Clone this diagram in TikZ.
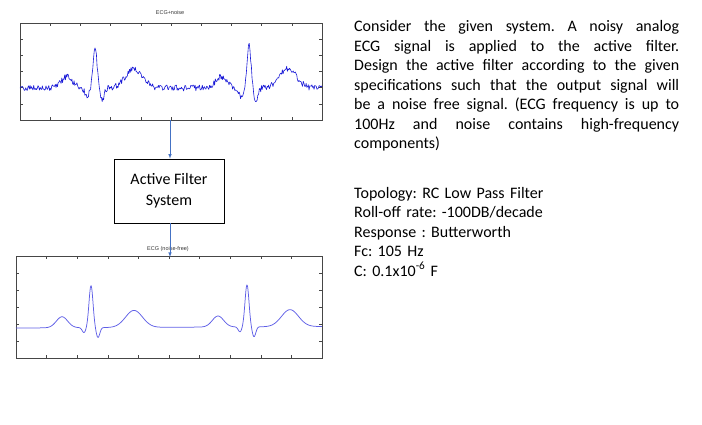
\documentclass[tikz,border=0pt]{standalone}
\usepackage{fontspec}
\setmainfont{Carlito}
\newfontfamily\plotfont{Liberation Sans}
\usepackage{tikz}
\usetikzlibrary{arrows,calc,positioning}
\definecolor{noisyblue}{RGB}{25,25,215}
\definecolor{cleanblue}{RGB}{95,95,230}
\definecolor{arrowblue}{RGB}{68,114,196}
\definecolor{framegray}{RGB}{70,70,70}
\frenchspacing
\tikzset{
  declare function={
    gs(\t)=exp(-(min(abs(\t),5))*(min(abs(\t),5)));
    cleanbeat(\x,\r)=11*gs((\x-\r+29)/8)-5*gs((\x-\r+7)/2.5)+42*gs((\x-\r)/2.8)-10*gs((\x-\r-7)/2.5)+17*gs((\x-\r-43)/12);
    noisybeat(\x,\r)=11*gs((\x-\r+28)/8)-9*gs((\x-\r+8)/3)+42*gs((\x-\r)/2.8)-12*gs((\x-\r-7)/3)+19*gs((\x-\r-39)/12);
  },
  plotframe/.style={draw=framegray,line width=0.5pt},
  plottick/.style={draw=framegray,line width=0.4pt},
  plottitle/.style={font=\plotfont\fontsize{5.5}{6}\selectfont,text=black!80},
  flowarrow/.style={draw=arrowblue,line width=0.6pt,-latex},
  txt/.style={font=\fontsize{16}{19.5}\selectfont,inner sep=0pt}
}
\begin{document}
\begin{tikzpicture}[x=1pt,y=-1pt]
\useasboundingbox (0,0) rectangle (702,425);
\pgfmathsetseed{11}
% upper plot: ECG + noise
\coordinate (NA) at (20,23);
\coordinate (NB) at (322,120);
\node[plottitle] (ntitle) at (170,13) {ECG+noise};
\draw[plotframe] (NA) rectangle (NB);
\foreach \i in {1,...,9}{
  \draw[plottick] (20+\i*30.2,23) -- ++(0,3);
  \draw[plottick] (20+\i*30.2,120) -- ++(0,-3);
}
\foreach \i in {1,...,5}{
  \draw[plottick] (20,23+\i*16.17) -- ++(3,0);
  \draw[plottick] (322,23+\i*16.17) -- ++(-3,0);
}
\draw[noisyblue,line width=0.6pt,line join=round] plot[domain=20:322,samples=420]
  (\x,{88-noisybeat(\x,95)-noisybeat(\x,249)+3*rand});
% lower plot: clean ECG
\coordinate (CA) at (16,256);
\coordinate (CB) at (322,358);
\node[plottitle] (ctitle) at (168,249) {ECG (noise-free)};
\draw[plotframe] (CA) rectangle (CB);
\foreach \i in {1,...,9}{
  \draw[plottick] (16+\i*30.6,256) -- ++(0,3);
  \draw[plottick] (16+\i*30.6,358) -- ++(0,-3);
}
\foreach \i in {1,...,5}{
  \draw[plottick] (16,256+\i*17) -- ++(3,0);
  \draw[plottick] (322,256+\i*17) -- ++(-3,0);
}
\draw[cleanblue,line width=0.75pt,line join=round] plot[domain=16:322,samples=400,smooth]
  (\x,{326.5+1.5*(1-(\x-16)/306)-cleanbeat(\x,91)-cleanbeat(\x,247)});
% filter block
\node[draw,line width=0.7pt,minimum width=110,minimum height=64,align=center,
      font=\fontsize{16}{21}\selectfont] (afs) at (169,191) {Active Filter\\System};
\coordinate (nout) at (170,120);
\coordinate (cin) at (170,257);
\draw[flowarrow] (nout) -- (nout |- afs.north);
\draw[flowarrow] (afs.south -| cin) -- (cin);
% problem statement
\node[txt,anchor=north west,text width=325,align=justify] (stmt) at (354,17.9)
  {\strut Consider the given system. A noisy analog\linebreak
   ECG signal is applied to the active filter.\linebreak
   Design the active filter according to the given\linebreak
   specifications such that the output signal will\linebreak
   be a noise free signal. (ECG frequency is up to\linebreak
   100Hz and noise contains high-frequency\linebreak
   components)};
\node[txt,anchor=north west,text width=325,align=left] (spec) at (354,184.4)
  {\strut Topology: RC Low Pass Filter\\
   Roll-off rate: -100DB/decade\\
   Response : Butterworth\\
   Fc: 105 Hz\\
   C: 0.1x10\textsuperscript{-6} F};
\end{tikzpicture}
\end{document}
